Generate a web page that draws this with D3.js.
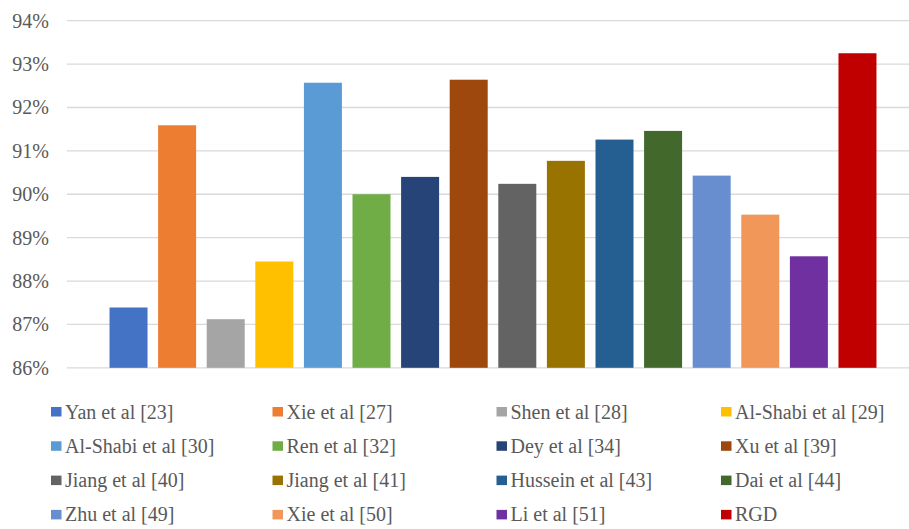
<!DOCTYPE html>
<html>
<head>
<meta charset="utf-8">
<script src="https://cdn.jsdelivr.net/npm/d3@7"></script>
<style>
  html, body { margin: 0; padding: 0; background: #fff; }
  svg { display: block; }
</style>
</head>
<body>
<svg id="chart" width="909" height="529"></svg>
<script>
// Accuracy of each method (%)
const methods = [
  "Yan et al [23]", "Xie et al [27]", "Shen et al [28]", "Al-Shabi et al [29]",
  "Al-Shabi et al [30]", "Ren et al [32]", "Dey et al [34]", "Xu et al [39]",
  "Jiang et al [40]", "Jiang et al [41]", "Hussein et al [43]", "Dai et al [44]",
  "Zhu et al [49]", "Xie et al [50]", "Li et al [51]", "RGD"
];
const accuracy = [
  87.39, 91.59, 87.12, 88.45,
  92.57, 90.00, 90.40, 92.64,
  90.24, 90.77, 91.26, 91.46,
  90.43, 89.53, 88.57, 93.25
];
const colors = [
  "#4472C4", "#ED7D31", "#A5A5A5", "#FFC000",
  "#5B9BD5", "#70AD47", "#264478", "#9E480E",
  "#636363", "#997300", "#255E91", "#43682B",
  "#698ED0", "#F1975A", "#7030A0", "#C00000"
];
const yTicks = [86, 87, 88, 89, 90, 91, 92, 93, 94];

const serif = "Times, 'Nimbus Roman', 'Noto Serif', FreeSerif, 'Liberation Serif', 'DejaVu Serif', serif";
const svg = d3.select("#chart");
const plot = { left: 67, right: 919, top: 20.7, bottom: 367.8 };

const x = d3.scaleBand()
  .domain(methods)
  .range([plot.left, plot.right])
  .paddingInner(0.218)
  .paddingOuter(0.875);

const y = d3.scaleLinear()
  .domain([86, 94])
  .range([plot.bottom, plot.top]);

// Horizontal gridlines
svg.append("g")
  .selectAll("line")
  .data(yTicks)
  .join("line")
  .attr("x1", plot.left)
  .attr("x2", plot.right)
  .attr("y1", d => y(d))
  .attr("y2", d => y(d))
  .attr("stroke", "#d9d9d9")
  .attr("stroke-width", 1.3);

// Y axis labels
const yAxis = svg.append("g")
  .attr("transform", `translate(${plot.left},0)`)
  .call(d3.axisLeft(y).tickValues(yTicks).tickFormat(d => d + "%").tickSize(0).tickPadding(18));
yAxis.attr("font-family", serif).attr("font-size", 20);
yAxis.select(".domain").remove();
yAxis.selectAll("text").attr("fill", "#595959");

// Bars
svg.append("g")
  .selectAll("rect")
  .data(methods)
  .join("rect")
  .attr("x", d => x(d))
  .attr("width", x.bandwidth())
  .attr("y", (d, i) => y(accuracy[i]))
  .attr("height", (d, i) => y(86) - y(accuracy[i]))
  .attr("fill", (d, i) => colors[i]);

// Legend: 4 columns x 4 rows
const legendCols = [51, 272.5, 496.5, 721];
const legendRows = [411.5, 445.8, 480.1, 514.4];
const legend = svg.append("g")
  .attr("font-family", serif)
  .attr("font-size", 20)
  .selectAll("g")
  .data(methods)
  .join("g")
  .attr("transform", (d, i) => `translate(${legendCols[i % 4]},${legendRows[Math.floor(i / 4)]})`);

legend.append("rect")
  .attr("x", 0)
  .attr("y", -4.5)
  .attr("width", 10.5)
  .attr("height", 9.5)
  .attr("fill", (d, i) => colors[i]);

legend.append("text")
  .attr("x", 14)
  .attr("y", 0)
  .attr("dy", "0.35em")
  .attr("fill", "#595959")
  .text(d => d);
</script>
</body>
</html>
